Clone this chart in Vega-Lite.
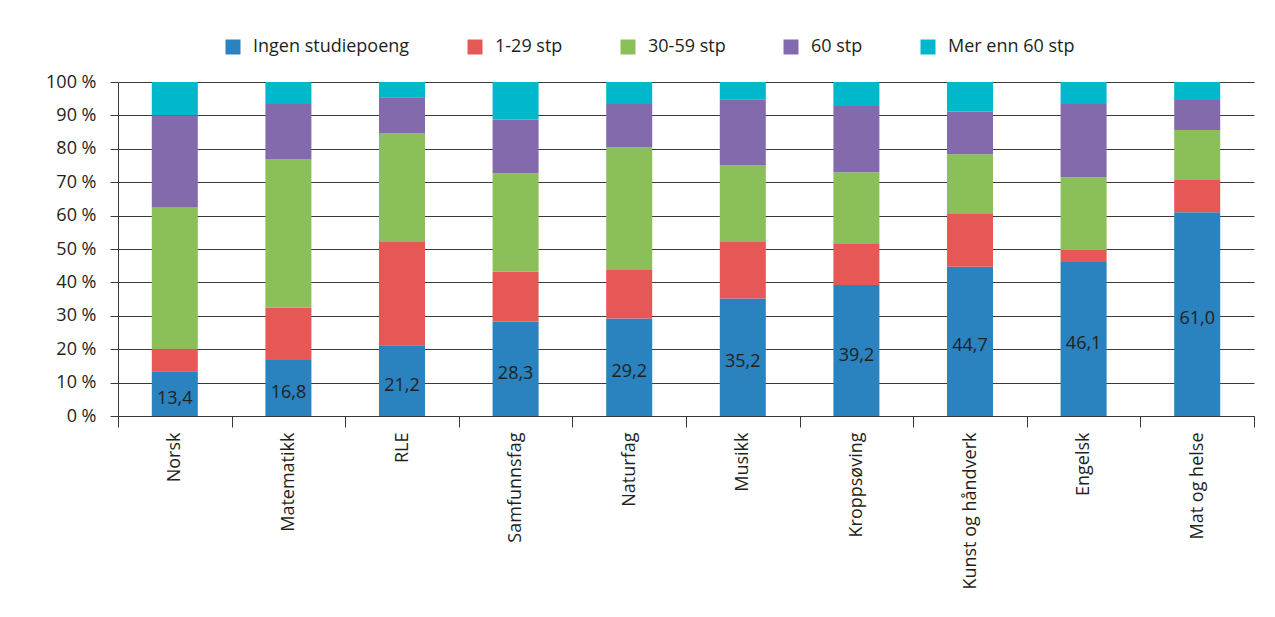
{
  "$schema": "https://vega.github.io/schema/vega-lite/v6.json",
  "width": 1136,
  "height": 334,
  "autosize": {"type": "none"},
  "padding": {"left": 118, "top": 82, "right": 21, "bottom": 201},
  "background": "white",
  "config": {
    "locale": {"number": {"decimal": ",", "thousands": " ", "grouping": [3], "currency": ["", " kr"]}},
    "font": "Open Sans",
    "view": {"stroke": null},
    "text": {"font": "Open Sans"}
  },
  "data": {
    "values": [
      {"fag": "Norsk", "kategori": "Ingen studiepoeng", "nr": 1, "andel": 13.4},
      {"fag": "Norsk", "kategori": "1-29 stp", "nr": 2, "andel": 6.6},
      {"fag": "Norsk", "kategori": "30-59 stp", "nr": 3, "andel": 42.6},
      {"fag": "Norsk", "kategori": "60 stp", "nr": 4, "andel": 27.4},
      {"fag": "Norsk", "kategori": "Mer enn 60 stp", "nr": 5, "andel": 10.0},
      {"fag": "Matematikk", "kategori": "Ingen studiepoeng", "nr": 1, "andel": 16.8},
      {"fag": "Matematikk", "kategori": "1-29 stp", "nr": 2, "andel": 15.7},
      {"fag": "Matematikk", "kategori": "30-59 stp", "nr": 3, "andel": 44.3},
      {"fag": "Matematikk", "kategori": "60 stp", "nr": 4, "andel": 16.6},
      {"fag": "Matematikk", "kategori": "Mer enn 60 stp", "nr": 5, "andel": 6.6},
      {"fag": "RLE", "kategori": "Ingen studiepoeng", "nr": 1, "andel": 21.2},
      {"fag": "RLE", "kategori": "1-29 stp", "nr": 2, "andel": 31.1},
      {"fag": "RLE", "kategori": "30-59 stp", "nr": 3, "andel": 32.3},
      {"fag": "RLE", "kategori": "60 stp", "nr": 4, "andel": 10.8},
      {"fag": "RLE", "kategori": "Mer enn 60 stp", "nr": 5, "andel": 4.6},
      {"fag": "Samfunnsfag", "kategori": "Ingen studiepoeng", "nr": 1, "andel": 28.3},
      {"fag": "Samfunnsfag", "kategori": "1-29 stp", "nr": 2, "andel": 15.0},
      {"fag": "Samfunnsfag", "kategori": "30-59 stp", "nr": 3, "andel": 29.4},
      {"fag": "Samfunnsfag", "kategori": "60 stp", "nr": 4, "andel": 16.1},
      {"fag": "Samfunnsfag", "kategori": "Mer enn 60 stp", "nr": 5, "andel": 11.2},
      {"fag": "Naturfag", "kategori": "Ingen studiepoeng", "nr": 1, "andel": 29.2},
      {"fag": "Naturfag", "kategori": "1-29 stp", "nr": 2, "andel": 14.7},
      {"fag": "Naturfag", "kategori": "30-59 stp", "nr": 3, "andel": 36.5},
      {"fag": "Naturfag", "kategori": "60 stp", "nr": 4, "andel": 13.0},
      {"fag": "Naturfag", "kategori": "Mer enn 60 stp", "nr": 5, "andel": 6.6},
      {"fag": "Musikk", "kategori": "Ingen studiepoeng", "nr": 1, "andel": 35.2},
      {"fag": "Musikk", "kategori": "1-29 stp", "nr": 2, "andel": 17.1},
      {"fag": "Musikk", "kategori": "30-59 stp", "nr": 3, "andel": 22.7},
      {"fag": "Musikk", "kategori": "60 stp", "nr": 4, "andel": 19.8},
      {"fag": "Musikk", "kategori": "Mer enn 60 stp", "nr": 5, "andel": 5.2},
      {"fag": "Kroppsøving", "kategori": "Ingen studiepoeng", "nr": 1, "andel": 39.2},
      {"fag": "Kroppsøving", "kategori": "1-29 stp", "nr": 2, "andel": 12.5},
      {"fag": "Kroppsøving", "kategori": "30-59 stp", "nr": 3, "andel": 21.3},
      {"fag": "Kroppsøving", "kategori": "60 stp", "nr": 4, "andel": 19.8},
      {"fag": "Kroppsøving", "kategori": "Mer enn 60 stp", "nr": 5, "andel": 7.2},
      {"fag": "Kunst og håndverk", "kategori": "Ingen studiepoeng", "nr": 1, "andel": 44.7},
      {"fag": "Kunst og håndverk", "kategori": "1-29 stp", "nr": 2, "andel": 16.0},
      {"fag": "Kunst og håndverk", "kategori": "30-59 stp", "nr": 3, "andel": 17.7},
      {"fag": "Kunst og håndverk", "kategori": "60 stp", "nr": 4, "andel": 12.8},
      {"fag": "Kunst og håndverk", "kategori": "Mer enn 60 stp", "nr": 5, "andel": 8.8},
      {"fag": "Engelsk", "kategori": "Ingen studiepoeng", "nr": 1, "andel": 46.1},
      {"fag": "Engelsk", "kategori": "1-29 stp", "nr": 2, "andel": 3.6},
      {"fag": "Engelsk", "kategori": "30-59 stp", "nr": 3, "andel": 21.8},
      {"fag": "Engelsk", "kategori": "60 stp", "nr": 4, "andel": 21.9},
      {"fag": "Engelsk", "kategori": "Mer enn 60 stp", "nr": 5, "andel": 6.6},
      {"fag": "Mat og helse", "kategori": "Ingen studiepoeng", "nr": 1, "andel": 61.0},
      {"fag": "Mat og helse", "kategori": "1-29 stp", "nr": 2, "andel": 9.9},
      {"fag": "Mat og helse", "kategori": "30-59 stp", "nr": 3, "andel": 14.7},
      {"fag": "Mat og helse", "kategori": "60 stp", "nr": 4, "andel": 9.0},
      {"fag": "Mat og helse", "kategori": "Mer enn 60 stp", "nr": 5, "andel": 5.4}
    ]
  },
  "encoding": {
    "x": {
      "field": "fag",
      "type": "nominal",
      "sort": null,
      "scale": {"paddingInner": 0, "paddingOuter": 0},
      "axis": {
        "title": null,
        "labelAngle": -90,
        "labelAlign": "right",
        "labelBaseline": "middle",
        "labelFontSize": 18,
        "labelColor": "#231f20",
        "labelPadding": 5,
        "tickBand": "extent",
        "tickSize": 11,
        "tickColor": "#3a3a3a",
        "domainColor": "#3a3a3a",
        "grid": false
      }
    }
  },
  "layer": [
    {
      "mark": {"type": "bar", "width": {"band": 0.405}},
      "encoding": {
        "y": {
          "field": "andel",
          "type": "quantitative",
          "stack": "zero",
          "scale": {"domain": [0, 100], "nice": false},
          "axis": {
            "title": null,
            "values": [0, 10, 20, 30, 40, 50, 60, 70, 80, 90, 100],
            "labelExpr": "datum.value + ' %'",
            "labelOverlap": false,
            "labelFontSize": 18,
            "labelColor": "#231f20",
            "labelPadding": 14,
            "tickSize": 8,
            "tickColor": "#3a3a3a",
            "domainColor": "#3a3a3a",
            "grid": true,
            "gridColor": "#3a3a3a",
            "gridOpacity": 1,
            "gridWidth": 1
          }
        },
        "color": {
          "field": "kategori",
          "type": "nominal",
          "scale": {
            "domain": ["Ingen studiepoeng", "1-29 stp", "30-59 stp", "60 stp", "Mer enn 60 stp"],
            "range": ["#2a82bf", "#e55856", "#8bbf5a", "#836aac", "#00b8cc"]
          },
          "legend": {
            "title": null,
            "orient": "none",
            "legendX": 106,
            "legendY": -44,
            "direction": "horizontal",
            "symbolType": "square",
            "symbolSize": 225,
            "symbolStrokeWidth": 0,
            "symbolOpacity": 1,
            "labelFontSize": 18,
            "labelColor": "#231f20",
            "labelOffset": 11,
            "columnPadding": 56,
            "padding": 0
          }
        },
        "order": {"field": "nr", "type": "quantitative", "sort": "ascending"}
      }
    },
    {
      "transform": [{"filter": "datum.nr == 1"}],
      "mark": {"type": "text", "fontSize": 18, "color": "#231f20", "dy": 5, "baseline": "middle", "align": "center"},
      "encoding": {
        "y": {
          "field": "andel",
          "type": "quantitative",
          "stack": "zero",
          "bandPosition": 0.5,
          "axis": {
            "title": null,
            "values": [0, 10, 20, 30, 40, 50, 60, 70, 80, 90, 100],
            "labelExpr": "datum.value + ' %'",
            "labelOverlap": false,
            "labelFontSize": 18,
            "labelColor": "#231f20",
            "labelPadding": 14,
            "tickSize": 8,
            "tickColor": "#3a3a3a",
            "domainColor": "#3a3a3a",
            "grid": true,
            "gridColor": "#3a3a3a",
            "gridOpacity": 1,
            "gridWidth": 1
          }
        },
        "text": {"field": "andel", "type": "quantitative", "format": ".1f"}
      }
    }
  ]
}
